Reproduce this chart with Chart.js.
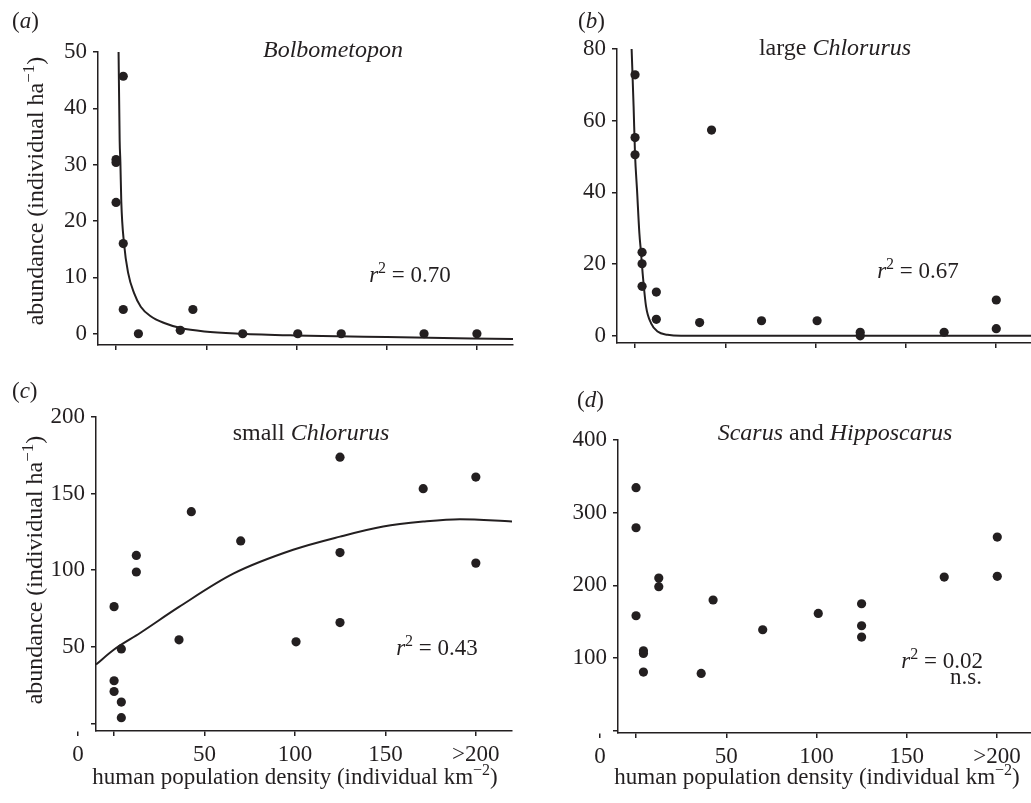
<!DOCTYPE html>
<html>
<head>
<meta charset="utf-8">
<script src="https://cdn.jsdelivr.net/npm/chart.js@4"></script>
<style>
  html, body { margin: 0; padding: 0; background: #fff; overflow: hidden; }
  body { width: 1031px; height: 803px; position: relative; }
  canvas { position: absolute; }
</style>
</head>
<body>
<canvas id="chartA" width="540" height="380" style="left:0;top:0"></canvas>
<canvas id="chartB" width="560" height="380" style="left:520px;top:0"></canvas>
<canvas id="chartC" width="540" height="423" style="left:0;top:380px"></canvas>
<canvas id="chartD" width="560" height="423" style="left:520px;top:380px"></canvas>
<script>
const INK = '#231f20';
const FONT = '"Liberation Serif", "Times New Roman", serif';

// x axis (shared)
const xTicksTop = [0, 50, 100, 150, 200];
const xLabelsTop = ['', '', '', '', ''];
const xTicksBottom = [-20, 0, 50, 100, 150, 200];   // "0" label sits left of the first tick
const xLabelsBottom = ['0', '', '50', '100', '150', '>200'];

// (a) Bolbometopon
const bolboX = [0, 0, 0, 4, 4, 4, 12.4, 35.6, 42.6, 70.2, 100.7, 124.8, 170.7, 200];
const bolboY = [23.3, 30.9, 30.4, 45.7, 16.0, 4.3, 0, 0.6, 4.3, 0, 0, 0, 0, 0];
const bolboFitX = [1.4, 2.0, 2.4, 2.9, 4.4, 6.7, 10, 13.7, 19.2, 26.7, 35.9, 48.9, 69.2, 98.9, 150, 220];
const bolboFitY = [50, 34.4, 30.5, 23.5, 16.1, 10.8, 7.2, 4.8, 3.1, 1.9, 1.0, 0.4, 0, -0.3, -0.6, -0.95];
const bolboYTicks = [0, 10, 20, 30, 40, 50];

// (b) large Chlorurus
const largeX = [0, 0, 0, 3.9, 3.9, 3.9, 11.8, 11.8, 35.8, 42.4, 70.1, 100.9, 124.8, 124.8, 171.3, 200.2, 200.2];
const largeY = [72.8, 55.3, 50.5, 23.3, 20.1, 13.8, 12.2, 4.6, 3.7, 57.4, 4.2, 4.2, 1.0, 0, 1.0, 10.0, 2.0];
const largeFitX = [-1.9, -0.8, 0, 1.1, 2.4, 3.3, 4.2, 6.1, 8.9, 12.5, 18, 25.5, 220];
const largeFitY = [80, 64, 50.5, 40.7, 28.6, 23.3, 17.5, 8.2, 3.5, 1.2, 0.3, 0, 0];
const largeYTicks = [0, 20, 40, 60, 80];

// (c) small Chlorurus
const smallX = [0, 0, 0, 4, 4, 4, 12.3, 12.3, 35.9, 42.7, 70, 100.6, 124.9, 124.9, 124.9, 170.9, 200, 200];
const smallY = [76.2, 27.8, 20.8, 48.6, 13.9, 3.7, 109.6, 98.8, 54.5, 138.2, 119.1, 53.2, 173.8, 111.5, 65.8, 153.2, 160.8, 104.6];
const smallFitX = [-10, 0, 14.4, 35.9, 65.9, 99, 124.9, 148.8, 170.9, 191.2, 220];
const smallFitY = [38.4, 48.2, 59, 76, 97.7, 113.3, 121.9, 128.5, 131.7, 133.3, 131.7];
const smallYTicks = [0, 50, 100, 150, 200];

// (d) Scarus and Hipposcarus
const scarusX = [0, 0, 0, 4.1, 4.1, 4.1, 12.6, 12.6, 36.1, 42.7, 70.2, 101, 125, 125, 125, 170.8, 200.2, 200.2];
const scarusY = [334.4, 279.3, 158.3, 110.1, 106.5, 80.8, 210.1, 198.2, 79, 179.9, 139, 161.5, 174.8, 144.5, 128.9, 211.5, 266.5, 212.5];
const scarusYTicks = [0, 100, 200, 300, 400];

const pairs = (xs, ys) => xs.map((x, i) => ({ x: x, y: ys[i] }));
const it = t => ({ t: t, i: true });
const rm = t => ({ t: t });
const sup = t => ({ t: t, sup: true });

const yTitle = [rm('abundance (individual ha'), sup('\u22121'), rm(')')];
const xTitle = [rm('human population density (individual km'), sup('\u22122'), rm(')')];

// draws a run of regular / italic / superscript pieces at the origin
function drawRich(ctx, parts, align, size) {
  const fontOf = p => (p.i ? 'italic ' : '') + (p.sup ? Math.round(size * 0.7) : size) + 'px ' + FONT;
  let total = 0;
  parts.forEach(p => { ctx.font = fontOf(p); total += ctx.measureText(p.t).width; });
  let x = align === 'left' ? 0 : align === 'right' ? -total : -total / 2;
  ctx.fillStyle = INK;
  ctx.textAlign = 'left';
  ctx.textBaseline = 'alphabetic';
  parts.forEach(p => {
    ctx.font = fontOf(p);
    ctx.fillText(p.t, x, p.sup ? -size * 0.38 : 0);
    x += ctx.measureText(p.t).width;
  });
}

const notesPlugin = {
  id: 'notes',
  afterDraw(chart, args, opts) {
    const ctx = chart.ctx;
    (opts.items || []).forEach(item => {
      ctx.save();
      ctx.translate(item.x, item.y);
      if (item.rotate) ctx.rotate(item.rotate);
      drawRich(ctx, item.parts, item.align || 'center', item.size || 23);
      ctx.restore();
    });
  }
};

function makeChart(id, cfg) {
  const datasets = [{
    data: pairs(cfg.xs, cfg.ys),
    showLine: false,
    pointRadius: 4.6,
    pointHoverRadius: 4.6,
    backgroundColor: INK,
    borderWidth: 0
  }];
  if (cfg.fitX) {
    datasets.push({
      data: pairs(cfg.fitX, cfg.fitY),
      showLine: true,
      pointRadius: 0,
      borderColor: INK,
      borderWidth: 2,
      cubicInterpolationMode: 'monotone',
      fill: false
    });
  }
  const tickFont = { family: FONT, size: 23 };
  return new Chart(document.getElementById(id), {
    type: 'scatter',
    data: { datasets: datasets },
    plugins: [notesPlugin],
    options: {
      responsive: false,
      animation: false,
      layout: { padding: { top: cfg.padTop, right: cfg.padRight, bottom: 0, left: 0 } },
      plugins: {
        legend: { display: false },
        tooltip: { enabled: false },
        notes: { items: cfg.notes }
      },
      scales: {
        x: {
          type: 'linear',
          min: -10,
          max: 220,
          afterBuildTicks: s => { s.ticks = cfg.xTicks.map(v => ({ value: v })); },
          afterFit: s => { s.height = cfg.xHeight; },
          ticks: {
            autoSkip: false,
            maxRotation: 0,
            padding: 5,
            color: INK,
            font: tickFont,
            callback: (v, i) => cfg.xLabels[i]
          },
          grid: { drawOnChartArea: false, drawTicks: true, tickLength: 5, color: INK, lineWidth: 1.5 },
          border: { display: true, color: INK, width: 1.5 }
        },
        y: {
          type: 'linear',
          min: cfg.yMin,
          max: cfg.yMax,
          afterBuildTicks: s => { s.ticks = cfg.yTicks.map(v => ({ value: v })); },
          afterFit: s => { s.width = cfg.yWidth; },
          ticks: {
            padding: 6,
            color: INK,
            font: tickFont,
            callback: v => (cfg.hideZero && v === 0) ? '' : String(v)
          },
          grid: { drawOnChartArea: false, drawTicks: true, tickLength: 5, color: INK, lineWidth: 1.5 },
          border: { display: true, color: INK, width: 1.5 }
        }
      }
    }
  });
}

makeChart('chartA', {
  xs: bolboX, ys: bolboY, fitX: bolboFitX, fitY: bolboFitY,
  yMin: -2, yMax: 50, yTicks: bolboYTicks,
  xTicks: xTicksTop, xLabels: xLabelsTop,
  padTop: 52, padRight: 27, yWidth: 98, xHeight: 35,
  notes: [
    { x: 12, y: 28, align: 'left', parts: [rm('('), it('a'), rm(')')] },
    { x: 333, y: 57, size: 24, parts: [it('Bolbometopon')] },
    { x: 410, y: 282, parts: [it('r'), sup('2'), rm(' = 0.70')] },
    { x: 43, y: 191, size: 24, rotate: -Math.PI / 2, parts: yTitle }
  ]
});

makeChart('chartB', {
  xs: largeX, ys: largeY, fitX: largeFitX, fitY: largeFitY,
  yMin: -2, yMax: 80, yTicks: largeYTicks,
  xTicks: xTicksTop, xLabels: xLabelsTop,
  padTop: 49, padRight: 48, yWidth: 97, xHeight: 37,
  notes: [
    { x: 58, y: 28, align: 'left', parts: [rm('('), it('b'), rm(')')] },
    { x: 315, y: 55, size: 24, parts: [rm('large '), it('Chlorurus')] },
    { x: 398, y: 278, parts: [it('r'), sup('2'), rm(' = 0.67')] }
  ]
});

makeChart('chartC', {
  xs: smallX, ys: smallY, fitX: smallFitX, fitY: smallFitY,
  yMin: -5, yMax: 200, yTicks: smallYTicks, hideZero: true,
  xTicks: xTicksBottom, xLabels: xLabelsBottom,
  padTop: 37, padRight: 28, yWidth: 96, xHeight: 72,
  notes: [
    { x: 12, y: 18, align: 'left', parts: [rm('('), it('c'), rm(')')] },
    { x: 311, y: 60, size: 24, parts: [rm('small '), it('Chlorurus')] },
    { x: 437, y: 275, parts: [it('r'), sup('2'), rm(' = 0.43')] },
    { x: 42, y: 190, size: 24, rotate: -Math.PI / 2, parts: yTitle },
    { x: 295, y: 404, parts: xTitle }
  ]
});

makeChart('chartD', {
  xs: scarusX, ys: scarusY,
  yMin: -3, yMax: 400, yTicks: scarusYTicks, hideZero: true,
  xTicks: xTicksBottom, xLabels: xLabelsBottom,
  padTop: 60, padRight: 47, yWidth: 98, xHeight: 70,
  notes: [
    { x: 57, y: 27, align: 'left', parts: [rm('('), it('d'), rm(')')] },
    { x: 315, y: 60, size: 24, parts: [it('Scarus'), rm(' and '), it('Hipposcarus')] },
    { x: 463, y: 288, align: 'right', parts: [it('r'), sup('2'), rm(' = 0.02')] },
    { x: 462, y: 304, align: 'right', parts: [rm('n.s.')] },
    { x: 297, y: 404, parts: xTitle }
  ]
});
</script>
</body>
</html>
